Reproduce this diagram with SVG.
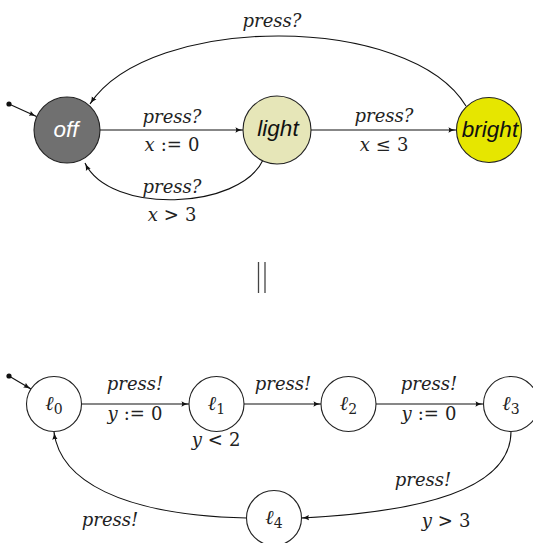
<svg xmlns="http://www.w3.org/2000/svg" width="533" height="543" viewBox="0 0 533 543">
<style>
.st{stroke:#222;stroke-width:1.1}
.edge{fill:none;stroke:#111;stroke-width:1.1}
.m{font-family:'DejaVu Serif',serif;font-size:18px;fill:#222;text-anchor:middle}
.i{font-style:italic}
.n{font-family:"Liberation Sans",Arial,sans-serif;font-style:italic;font-size:22.5px;text-anchor:middle}
.l{font-family:'DejaVu Serif',serif;font-size:20px;fill:#222;text-anchor:middle}
</style>
<defs>
<marker id="ar" viewBox="0 0 8 6" refX="7.6" refY="3" markerWidth="8" markerHeight="6" markerUnits="userSpaceOnUse" orient="auto">
<path d="M0,0.3 Q3,2.4 8,3 Q3,3.6 0,5.7 Q1.6,3 0,0.3Z" fill="#111"/>
</marker>
</defs>
<g id="connectors">
<circle cx="9" cy="104" r="2.6" fill="#111"/>
<line class="edge" x1="9" y1="104" x2="36.5" y2="116.5" marker-end="url(#ar)"/>
<line class="edge" x1="100" y1="130" x2="243" y2="130" marker-end="url(#ar)"/>
<line class="edge" x1="311" y1="130" x2="456" y2="130" marker-end="url(#ar)"/>
<path class="edge" d="M466,106 C410,13 150,13 90,104" marker-end="url(#ar)"/>
<path class="edge" d="M263,160 C240,210 110,215 85,163" marker-end="url(#ar)"/>
<circle cx="9" cy="376" r="2.6" fill="#111"/>
<line class="edge" x1="9" y1="376" x2="31" y2="389" marker-end="url(#ar)"/>
<line class="edge" x1="82" y1="404" x2="189" y2="404" marker-end="url(#ar)"/>
<line class="edge" x1="244" y1="404" x2="321" y2="404" marker-end="url(#ar)"/>
<line class="edge" x1="376" y1="404" x2="483" y2="404" marker-end="url(#ar)"/>
<path class="edge" d="M511,431.5 C511,490 420,512 301.5,518" marker-end="url(#ar)"/>
<path class="edge" d="M246.5,518 C120,515 60,480 54,432" marker-end="url(#ar)"/>
</g>
<g id="labels">
<text class="m i" x="272" y="27">press?</text>
<text class="m i" x="172" y="123">press?</text>
<text class="m" x="172" y="151"><tspan font-style="italic">x</tspan><tspan dx="6">:=</tspan><tspan dx="6">0</tspan></text>
<text class="m i" x="384" y="122">press?</text>
<text class="m" x="384" y="151"><tspan font-style="italic">x</tspan><tspan dx="6">≤</tspan><tspan dx="6">3</tspan></text>
<text class="m i" x="172" y="193">press?</text>
<text class="m" x="172" y="221"><tspan font-style="italic">x</tspan><tspan dx="6">&gt;</tspan><tspan dx="6">3</tspan></text>
<text class="m i" x="135" y="390">press!</text>
<text class="m" x="135" y="420"><tspan font-style="italic">y</tspan><tspan dx="6">:=</tspan><tspan dx="6">0</tspan></text>
<text class="m i" x="283" y="390">press!</text>
<text class="m i" x="429" y="390">press!</text>
<text class="m" x="429" y="420"><tspan font-style="italic">y</tspan><tspan dx="6">:=</tspan><tspan dx="6">0</tspan></text>
<text class="m" x="216" y="446"><tspan font-style="italic">y</tspan><tspan dx="6">&lt;</tspan><tspan dx="6">2</tspan></text>
<text class="m i" x="423" y="486">press!</text>
<text class="m" x="446" y="527"><tspan font-style="italic">y</tspan><tspan dx="6">&gt;</tspan><tspan dx="6">3</tspan></text>
<text class="m i" x="110" y="526">press!</text>
</g>
<g id="parallel">
<line x1="258.5" y1="262" x2="258.5" y2="293" stroke="#444" stroke-width="1.3"/>
<line x1="265" y1="262" x2="265" y2="293" stroke="#444" stroke-width="1.3"/>
</g>
<g id="off">
<circle class="st" cx="67" cy="130" r="33" fill="#707070"/>
<text class="n" x="66" y="137" fill="#fff">off</text>
</g>
<g id="light">
<circle class="st" cx="277" cy="130" r="34" fill="#e6e6b8"/>
<text class="n" x="278" y="136" fill="#111" font-size="23">light</text>
</g>
<g id="bright">
<circle class="st" cx="489" cy="130" r="32.5" fill="#e6e600"/>
<text class="n" x="490" y="137" fill="#111">bright</text>
</g>
<g id="l0">
<circle class="st" cx="54" cy="404" r="27.5" fill="#fff"/>
<text class="l" x="54" y="410"><tspan font-style="italic">ℓ</tspan><tspan font-size="14" dy="4">0</tspan></text>
</g>
<g id="l1">
<circle class="st" cx="216.5" cy="404" r="27.5" fill="#fff"/>
<text class="l" x="216.5" y="410"><tspan font-style="italic">ℓ</tspan><tspan font-size="14" dy="4">1</tspan></text>
</g>
<g id="l2">
<circle class="st" cx="348.5" cy="404" r="27.5" fill="#fff"/>
<text class="l" x="348.5" y="410"><tspan font-style="italic">ℓ</tspan><tspan font-size="14" dy="4">2</tspan></text>
</g>
<g id="l3">
<circle class="st" cx="511" cy="404" r="27.5" fill="#fff"/>
<text class="l" x="511" y="410"><tspan font-style="italic">ℓ</tspan><tspan font-size="14" dy="4">3</tspan></text>
</g>
<g id="l4">
<circle class="st" cx="274" cy="518" r="27.5" fill="#fff"/>
<text class="l" x="274" y="524"><tspan font-style="italic">ℓ</tspan><tspan font-size="14" dy="4">4</tspan></text>
</g>
</svg>
